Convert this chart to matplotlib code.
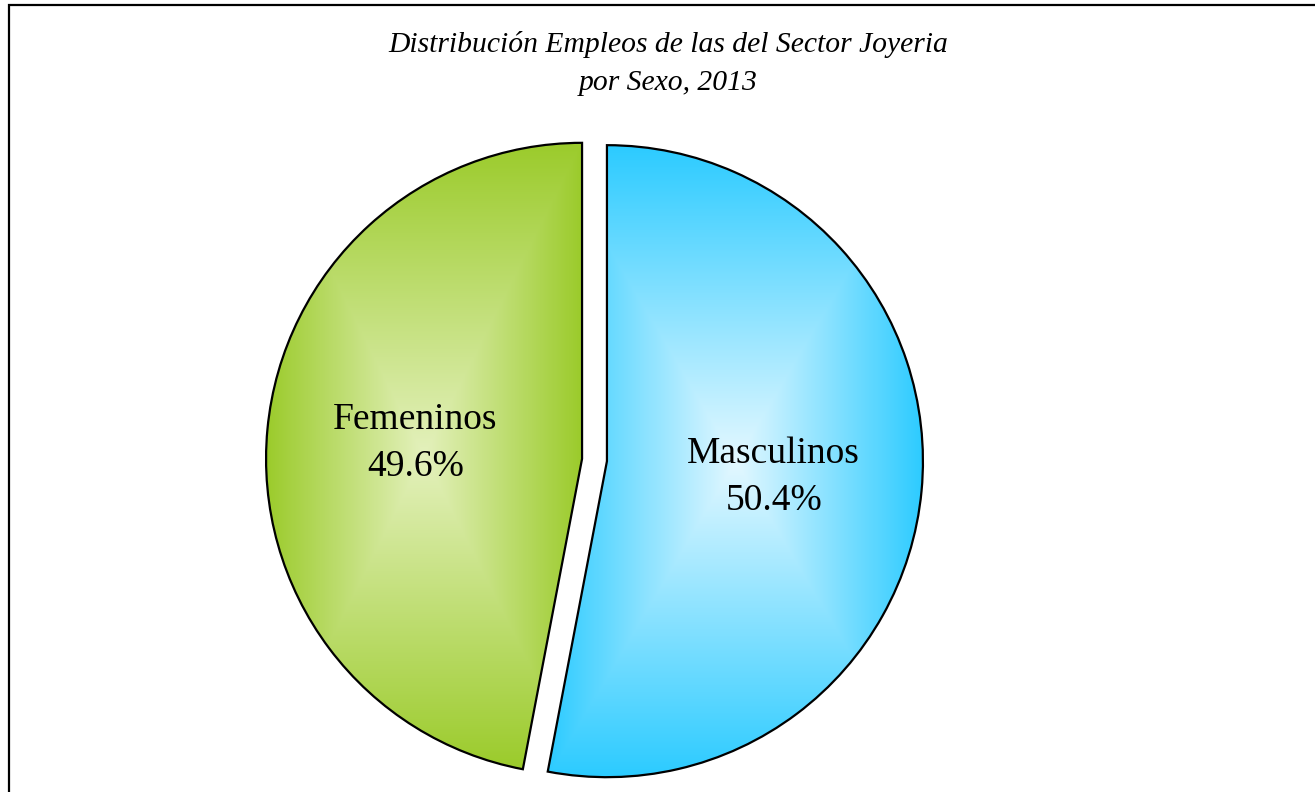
import numpy as np
import matplotlib.pyplot as plt
from matplotlib.patches import Rectangle

# ==================== Data ====================
categories = ['Masculinos', 'Femeninos']
label_pct = [50.4, 49.6]          # values printed on the slices
drawn_share = [53.0, 47.0]        # sector sizes as drawn in the original chart
edge_colors = ['#2ccbff', '#9bcb2b']
center_colors = ['#e4f8ff', '#e4f1bd']
title = 'Distribución Empleos de las del Sector Joyeria\npor Sexo, 2013'

W, H = 1315, 792
SERIF = ['Liberation Serif', 'DejaVu Serif']


def hex_rgb(c):
    c = c.lstrip('#')
    return np.array([int(c[i:i + 2], 16) for i in (0, 2, 4)]) / 255.0


def path_gradient(ax, wedge, c_edge, c_center, n=300):
    # rectangular "path" gradient: light in the middle of the bbox, dark at its edges
    bb = wedge.get_path().get_extents(wedge.get_patch_transform())
    xs = np.linspace(-1, 1, n)
    X, Y = np.meshgrid(xs, xs)
    t = np.maximum(np.abs(X), np.abs(Y))
    e, c = hex_rgb(c_edge), hex_rgb(c_center)
    img = c + (e - c) * t[..., None]
    im = ax.imshow(img, extent=[bb.x0, bb.x1, bb.y0, bb.y1], origin='lower',
                   interpolation='bilinear', zorder=1)
    im.set_clip_path(wedge)


# ==================== Figure ====================
fig = plt.figure(figsize=(W / 100, H / 100), dpi=100)
ax = fig.add_axes([0, 0, 1, 1])

labels = [f'{c}\n{p:.1f}%' for c, p in zip(categories, label_pct)]
# explode is in data units here (axes map 1:1 to pixels)
wedges, texts = ax.pie(drawn_share, labels=labels, startangle=90, counterclock=False,
                       center=(594.5, 332), radius=316, explode=[12.5, 12.5],
                       labeldistance=0.53, frame=True,
                       wedgeprops=dict(edgecolor='black', linewidth=1.6, zorder=3),
                       textprops=dict(fontsize=27, family=SERIF))

for w, ce, cc in zip(wedges, edge_colors, center_colors):
    w.set_facecolor('none')
    path_gradient(ax, w, ce, cc)

for t in texts:
    t.set_ha('center')
    t.set_va('center')
    t.set_linespacing(1.47)
    t.set_zorder(4)

ax.set_xlim(0, W)
ax.set_ylim(0, H)
ax.set_aspect('auto')
ax.axis('off')

# chart border (only the left and top edges fall inside the picture)
ax.add_patch(Rectangle((9, -20), W + 40, H - 5 + 20, fill=False,
                       edgecolor='black', linewidth=1.6, zorder=5))

fig.text(668 / W, 1 - 63 / H, title, ha='center', va='center', fontsize=21.3,
         style='italic', family=SERIF, linespacing=1.6)

fig.savefig('out.png', dpi=100, facecolor='white')
